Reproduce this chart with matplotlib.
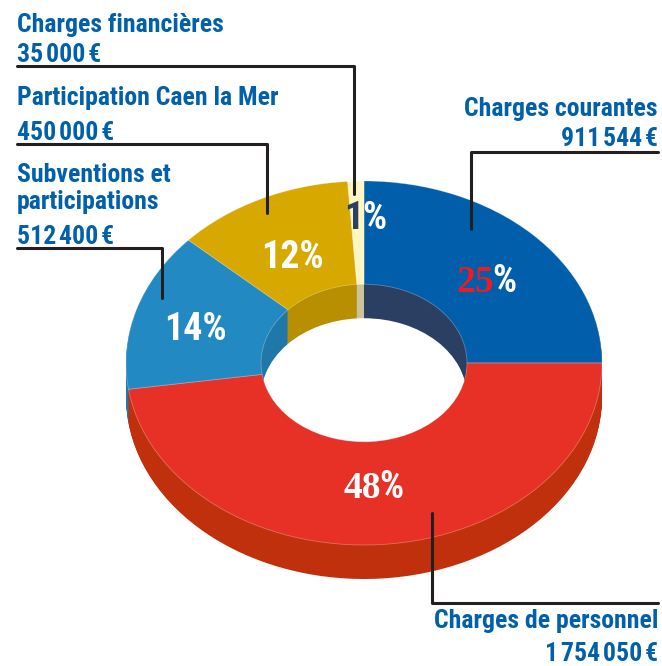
import numpy as np
import matplotlib
matplotlib.use('Agg')
import matplotlib.pyplot as plt

# slice shares in %, clockwise from the top
shares = [25.0, 47.7, 14.1, 12.1, 1.1]
top_colors = ['#005EAA', '#E73126', '#2389C2', '#D7A900', '#FFF6C2']
wall_colors = ['#2B3F63', '#C1300C', '#1F78A8', '#B88F00', '#CBC39B']

WIDTH, HEIGHT = 662, 666
CX, CY = 364, 363      # centre of the top face in pixels
RX, RY = 238, 182      # outer radii of the top face
RING = 1 - 103 / 238   # ring width, the hole is 103 px wide each side
DEPTH = 34

LABEL_FONT = ['Roboto Condensed', 'Liberation Sans Narrow', 'DejaVu Sans']
SERIF_FONT = ['Liberation Serif', 'DejaVu Serif']
BLUE = '#0060AB'
INK = '#231F20'

fig = plt.figure(figsize=(WIDTH / 100, HEIGHT / 100), dpi=100)

# pie axes: one unit is RX wide and RY high, which squashes the circle
ax = fig.add_axes([0, 0, 1, 1])

# the thickness is the same ring stacked from the bottom up
for d in np.arange(DEPTH, 0, -1):
    ax.pie(shares, colors=wall_colors, startangle=90, counterclock=False,
           center=(0, -d / RY), radius=1,
           wedgeprops=dict(width=RING, linewidth=0))

ax.pie(shares, colors=top_colors, startangle=90, counterclock=False,
       center=(0, 0), radius=1,
       wedgeprops=dict(width=RING, linewidth=0.6, edgecolor=(1, 1, 1, 0.3)))

ax.set_aspect('auto')
ax.set_xlim(-CX / RX, (WIDTH - CX) / RX)
ax.set_ylim(-(HEIGHT - CY) / RY, CY / RY)
ax.axis('off')

# overlay in picture pixels for the labels and leader lines
ov = fig.add_axes([0, 0, 1, 1])
ov.set_xlim(0, WIDTH)
ov.set_ylim(HEIGHT, 0)
ov.axis('off')
ov.patch.set_alpha(0)

def leader(xs, ys):
    ov.plot(xs, ys, color=INK, lw=2.2, solid_capstyle='round', solid_joinstyle='round')

leader([17, 354, 354], [65.5, 65.5, 194])
leader([17, 267, 267], [143.5, 143.5, 213])
leader([17, 162, 162], [247.5, 247.5, 298])
leader([658, 471, 471], [152, 152, 229])
leader([431.5, 431.5, 658], [513, 603, 603])

def label(x, y, s, ha='left'):
    ov.text(x, y, s, ha=ha, va='baseline', color=BLUE, fontsize=18.5,
            fontweight='bold', family=LABEL_FONT)

label(17, 32, 'Charges financières')
label(17, 62, '35\u200a000\u200a€')
label(17, 105.5, 'Participation Caen la Mer')
label(17, 140, '450\u200a000\u200a€')
label(17, 182, 'Subventions et')
label(17, 209.5, 'participations')
label(17, 244, '512\u200a400\u200a€')
label(658, 116, 'Charges courantes', ha='right')
label(658, 146, '911\u200a544\u200a€', ha='right')
label(658, 628, 'Charges de personnel', ha='right')
label(658, 661, '1\u200a754\u200a050\u200a€', ha='right')

def pct(x, y, s, color='white', ha='left', family=LABEL_FONT, size=27.4):
    ov.text(x, y, s, ha=ha, va='baseline', color=color, fontsize=size,
            fontweight='bold', family=family)

pct(292, 268, '12%', ha='center')
pct(195.5, 340, '14%', ha='center')
pct(456, 292, '25', color='#EC1C24', family=SERIF_FONT, size=27)
pct(516, 292, '%', ha='right')
pct(343, 498, '48', family=SERIF_FONT, size=27)
pct(403, 498, '%', ha='right')
pct(363, 229, '1', color='#2B3F63', ha='right')
pct(386, 229, '%', ha='right')

fig.savefig('out.png', dpi=100)
